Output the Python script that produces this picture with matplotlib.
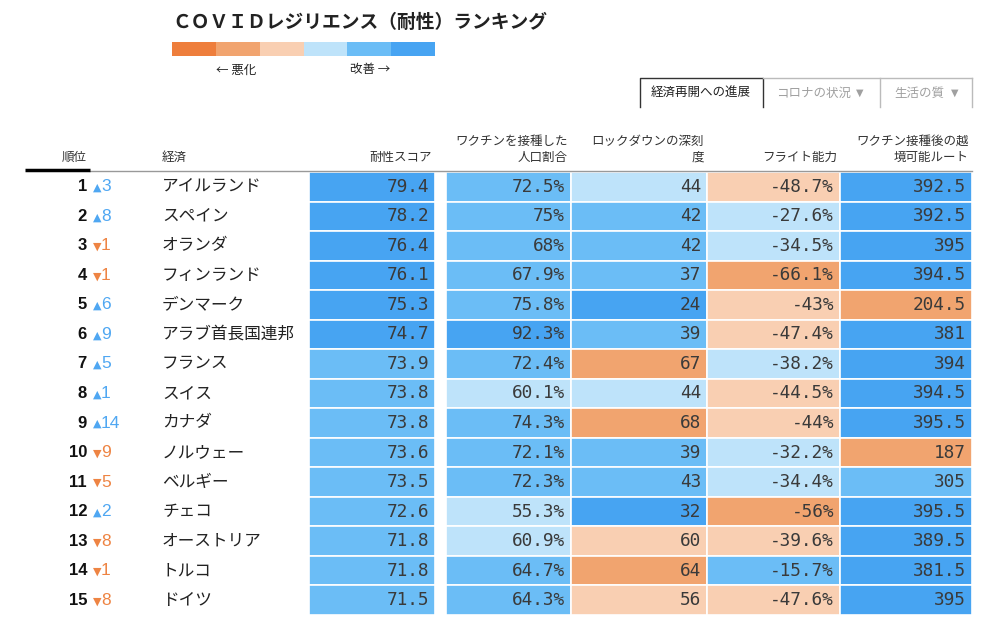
import matplotlib
matplotlib.use('Agg')
import matplotlib.pyplot as plt
from matplotlib.patches import Rectangle

plt.rcParams['font.family'] = ['Noto Sans CJK JP', 'DejaVu Sans']

# ---- data ----
title = 'ＣＯＶＩＤレジリエンス（耐性）ランキング'
ranks = list(range(1, 16))
rank_change = [3, 8, -1, -1, 6, 9, 5, 1, 14, -9, -5, 2, -8, -1, -8]
economies = ['アイルランド', 'スペイン', 'オランダ', 'フィンランド', 'デンマーク',
             'アラブ首長国連邦', 'フランス', 'スイス', 'カナダ', 'ノルウェー',
             'ベルギー', 'チェコ', 'オーストリア', 'トルコ', 'ドイツ']
score = [79.4, 78.2, 76.4, 76.1, 75.3, 74.7, 73.9, 73.8, 73.8, 73.6, 73.5, 72.6, 71.8, 71.8, 71.5]
vaccinated = [72.5, 75, 68, 67.9, 75.8, 92.3, 72.4, 60.1, 74.3, 72.1, 72.3, 55.3, 60.9, 64.7, 64.3]
lockdown = [44, 42, 42, 37, 24, 39, 67, 44, 68, 39, 43, 32, 60, 64, 56]
flight = [-48.7, -27.6, -34.5, -66.1, -43, -47.4, -38.2, -44.5, -44, -32.2, -34.4, -56, -39.6, -15.7, -47.6]
routes = [392.5, 392.5, 395, 394.5, 204.5, 381, 394, 394.5, 395.5, 187, 305, 395.5, 389.5, 381.5, 395]

# colour class of each cell, 0 = worst ... 5 = best
score_lvl = [5, 5, 5, 5, 5, 5, 4, 4, 4, 4, 4, 4, 4, 4, 4]
vacc_lvl = [4, 4, 4, 4, 4, 5, 4, 3, 4, 4, 4, 3, 3, 4, 4]
lock_lvl = [3, 4, 4, 4, 5, 4, 1, 3, 1, 4, 4, 5, 2, 1, 2]
flight_lvl = [2, 3, 3, 1, 2, 2, 3, 2, 2, 3, 3, 1, 2, 4, 2]
routes_lvl = [5, 5, 5, 5, 1, 5, 5, 5, 5, 1, 4, 5, 5, 5, 5]

headers = ['耐性スコア', 'ワクチンを接種した\n人口割合', 'ロックダウンの深刻\n度',
           'フライト能力', 'ワクチン接種後の越\n境可能ルート']
tabs = ['経済再開への進展', 'コロナの状況', '生活の質']

palette = ['#EE7E3C', '#F1A46F', '#F9CFB2', '#BEE3FA', '#6BBDF6', '#47A4F2']
up_col = '#4FA7F2'
down_col = '#EE8443'

# ---- figure in pixel coords ----
fig = plt.figure(figsize=(10, 6.33), dpi=100)
ax = fig.add_axes([0, 0, 1, 1])
ax.set_xlim(0, 1000)
ax.set_ylim(633, 0)
ax.axis('off')

# title + colour legend
ax.text(172, 22, title, fontsize=13.5, fontweight='bold', color='#222', va='center', ha='left')
seg = (435 - 172) / len(palette)
for i, c in enumerate(palette):
    ax.add_patch(Rectangle((172 + i * seg, 42), seg, 14, facecolor=c, edgecolor='none'))
ax.text(236, 70, '← 悪化', fontsize=9, ha='center', va='center', color='#222')
ax.text(370, 70, '改善 →', fontsize=9, ha='center', va='center', color='#222')

# tabs
ax.plot([640, 640, 763, 763], [107, 78, 78, 107], color='#333', lw=1)
ax.plot([763, 972], [78, 78], color='#bbb', lw=1)
ax.plot([880, 880], [78, 107], color='#bbb', lw=1)
ax.plot([972, 972], [78, 107], color='#bbb', lw=1)
ax.text(701, 93, tabs[0], fontsize=9, ha='center', va='center', color='#222')
for t, x in zip(tabs[1:], [814, 919]):
    ax.text(x, 93, t, fontsize=9, ha='center', va='center', color='#a0a0a0')
for x in [860, 955]:
    ax.text(x, 93, '▼', fontsize=7, ha='center', va='center', color='#a0a0a0',
            family=['DejaVu Sans'])

# header row
ax.text(74, 157, '順位', fontsize=9, ha='center', va='center', color='#333')
ax.text(162, 157, '経済', fontsize=9, ha='left', va='center', color='#333')
col_left = [309, 446, 571, 707, 840]
col_right = [435, 571, 707, 840, 972]
for h, xr in zip(headers, col_right):
    ax.text(xr - 3, 164, h, fontsize=9, ha='right', va='bottom', color='#333', linespacing=1.35)
ax.plot([90, 972], [170.5, 170.5], color='#999', lw=1)
ax.plot([25, 90], [170, 170], color='black', lw=2.5, solid_capstyle='butt')

# table body
top = 172
row_h = (615 - 172) / 15
columns = [
    (score, score_lvl, '{:.1f}'),
    (vaccinated, vacc_lvl, '{:g}%'),
    (lockdown, lock_lvl, '{:g}'),
    (flight, flight_lvl, '{:g}%'),
    (routes, routes_lvl, '{:g}'),
]
for r in range(len(ranks)):
    y0 = top + r * row_h
    yc = y0 + row_h / 2
    ax.text(87, yc, str(ranks[r]), fontsize=12, fontweight='bold', ha='right', va='center',
            family=['Liberation Sans', 'DejaVu Sans'], color='#111')
    ch = rank_change[r]
    c = up_col if ch > 0 else down_col
    ax.text(93, yc + 1, '▲' if ch > 0 else '▼', fontsize=8, ha='left', va='center',
            family=['DejaVu Sans'], color=c)
    ax.text(101, yc, str(abs(ch)), fontsize=12.5, ha='left', va='center',
            family=['Liberation Sans', 'DejaVu Sans'], color=c)
    ax.text(162, yc, economies[r], fontsize=12, ha='left', va='center', color='#222')
    for (vals, lvls, fmt), xl, xr in zip(columns, col_left, col_right):
        ax.add_patch(Rectangle((xl, y0), xr - xl, row_h, facecolor=palette[lvls[r]],
                               edgecolor='white', lw=1.2))
        ax.text(xr - 6, yc, fmt.format(vals[r]), fontsize=12.8, ha='right', va='center',
                family=['DejaVu Sans Mono'], color='#3a3a3a')

fig.savefig('out.png', dpi=100)
